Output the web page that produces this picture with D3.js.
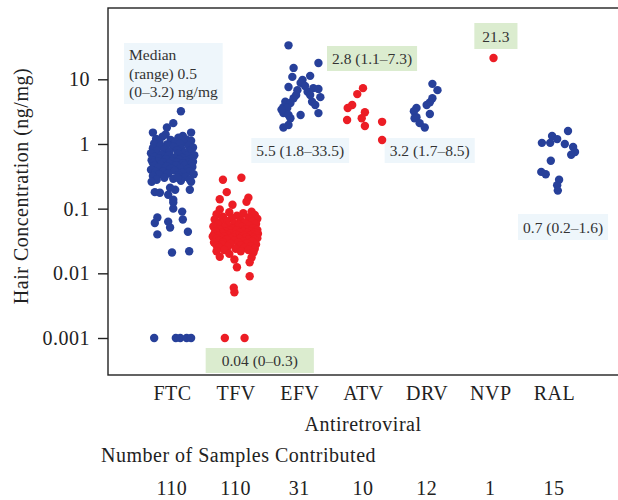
<!DOCTYPE html>
<html>
<head>
<meta charset="utf-8">
<script src="https://cdn.jsdelivr.net/npm/d3@7"></script>
<style>
  body { margin: 0; background: #fff; }
  svg { display: block; }
  svg text { font-family: "Liberation Serif", "DejaVu Serif", "Times New Roman", Times, serif; }
  .big { letter-spacing: 0.5px; }
</style>
</head>
<body>
<svg id="chart" width="618" height="500"></svg>
<script>
// categories and tick labels
const categories = ['FTC', 'TFV', 'EFV', 'ATV', 'DRV', 'NVP', 'RAL']
const sampleCounts = [110, 110, 31, 10, 12, 1, 15]
const yTicks = [0.001, 0.01, 0.1, 1, 10]
const yTickLabels = ['0.001', '0.01', '0.1', '1', '10']

// points: [concentration ng/mg, jitter as share of category spacing]
// zeros (below detection) are drawn at 0.001
const ftcPoints = [
  [3.2, 0.14], [2.1, 0.02], [1.8, -0.08], [1.5, -0.30], [1.5, 0.30], [1.4, -0.10], [1.33, 0.17],
  [1.3, -0.15], [1.25, 0.10], [1.2, -0.25], [1.18, 0.22], [1.15, -0.02], [1.12, 0.30], [1.1, -0.20],
  [1.08, 0.05], [1.05, 0.18], [1.02, -0.28], [1.0, 0.12], [0.98, -0.08], [0.95, 0.26], [0.93, -0.18],
  [0.9, 0.02], [0.88, 0.33], [0.86, -0.30], [0.84, 0.15], [0.82, -0.12], [0.8, 0.08], [0.78, -0.24],
  [0.76, 0.28], [0.75, -0.04], [0.73, 0.20], [0.72, -0.33], [0.7, 0.10], [0.68, -0.16], [0.67, 0.35],
  [0.66, -0.06], [0.65, 0.24], [0.63, -0.27], [0.62, 0.04], [0.61, 0.16], [0.6, -0.20], [0.59, 0.30],
  [0.58, -0.10], [0.57, 0.12], [0.56, -0.32], [0.55, 0.22], [0.54, 0.00], [0.53, -0.22], [0.53, 0.33],
  [0.52, -0.14], [0.52, 0.08], [0.51, 0.26], [0.51, -0.30], [0.5, -0.04], [0.5, 0.17],
  [0.49, 0.30], [0.48, -0.18], [0.47, 0.06], [0.46, -0.28], [0.46, 0.20], [0.45, -0.08], [0.44, 0.32],
  [0.43, -0.22], [0.42, 0.12], [0.42, -0.02], [0.41, 0.25], [0.4, -0.33], [0.39, 0.04], [0.38, -0.14],
  [0.38, 0.28], [0.37, -0.26], [0.36, 0.16], [0.35, -0.06], [0.34, 0.34], [0.34, -0.20], [0.33, 0.10],
  [0.32, -0.30], [0.31, 0.22], [0.3, -0.12], [0.29, 0.02], [0.28, -0.24], [0.27, 0.14], [0.26, -0.32],
  [0.26, 0.30],
  [0.30, 0.09], [0.28, 0.28], [0.21, -0.03], [0.196, 0.05], [0.196, 0.28], [0.18, -0.27], [0.176, -0.19],
  [0.164, -0.06], [0.137, 0.02], [0.124, 0.02], [0.10, 0.02], [0.09, 0.16], [0.073, -0.23], [0.068, 0.17],
  [0.063, -0.06], [0.06, -0.27], [0.051, -0.03], [0.044, 0.25], [0.040, -0.23], [0.022, 0.27], [0.021, 0.0],
  [0, -0.28], [0, 0.06], [0, 0.13], [0, 0.23], [0, 0.30]
]
const tfvPoints = [
  [0.30, 0.09], [0.28, -0.20], [0.18, -0.14], [0.148, 0.20], [0.14, -0.25], [0.128, 0.17], [0.115, -0.05],
  [0.097, -0.25], [0.09, 0.25],
  [0.088, -0.10], [0.085, 0.12], [0.082, -0.30], [0.08, 0.30], [0.078, 0.02], [0.075, -0.20], [0.073, 0.20],
  [0.071, -0.06], [0.07, 0.34], [0.068, -0.33], [0.066, 0.08], [0.065, -0.15], [0.063, 0.26], [0.062, -0.25],
  [0.06, 0.14], [0.059, -0.02], [0.058, 0.32], [0.057, -0.28], [0.056, 0.05], [0.055, -0.12], [0.054, 0.22],
  [0.053, -0.35], [0.052, 0.10], [0.051, -0.18], [0.05, 0.28], [0.049, -0.05], [0.048, 0.16], [0.048, -0.26],
  [0.047, 0.34], [0.046, -0.10], [0.046, 0.02], [0.045, -0.32], [0.045, 0.24], [0.044, -0.16], [0.044, 0.12],
  [0.043, -0.22], [0.043, 0.30], [0.042, 0.06], [0.042, -0.30], [0.042, 0.18], [0.041, -0.08], [0.041, 0.35],
  [0.041, -0.20], [0.04, 0.00], [0.04, 0.26], [0.04, -0.34],
  [0.039, 0.14], [0.039, -0.12], [0.039, 0.32], [0.038, -0.28], [0.038, 0.04], [0.038, 0.22], [0.037, -0.18],
  [0.037, 0.10], [0.037, -0.36], [0.036, 0.28], [0.036, -0.04], [0.036, 0.16], [0.035, -0.24], [0.035, 0.34],
  [0.035, -0.10], [0.034, 0.06], [0.034, -0.30], [0.033, 0.20], [0.033, -0.14], [0.033, 0.30], [0.032, -0.02],
  [0.032, -0.26], [0.031, 0.12], [0.031, 0.26], [0.03, -0.20], [0.03, 0.04], [0.03, -0.34], [0.029, 0.18],
  [0.029, -0.08], [0.028, 0.32], [0.028, -0.22], [0.027, 0.08], [0.027, -0.30], [0.026, 0.24], [0.026, -0.12],
  [0.025, 0.14], [0.025, -0.26], [0.024, 0.30], [0.024, 0.00], [0.023, -0.18], [0.023, 0.20], [0.022, -0.30],
  [0.022, 0.08], [0.021, 0.28], [0.020, -0.10],
  [0.0176, 0.25], [0.018, -0.25], [0.0164, -0.02], [0.0148, 0.22], [0.0124, 0.02], [0.009, 0.22],
  [0.006, -0.03], [0.0051, -0.02],
  [0, -0.17], [0, 0.14]
]
const efvPoints = [
  [33.5, -0.17], [17.9, 0.30], [15.0, -0.09], [11.3, 0.17], [10.9, -0.11], [9.8, 0.05], [8.8, 0.02],
  [7.6, -0.17], [7.3, 0.22], [7.1, 0.30], [6.8, -0.03], [6.4, 0.13], [5.3, 0.33], [5.1, -0.09],
  [4.5, -0.22], [4.3, -0.14], [4.5, 0.20], [4.0, 0.25], [3.7, -0.25], [3.6, -0.19], [3.0, 0.30],
  [3.0, -0.25], [2.8, -0.17], [2.8, 0.02], [2.5, -0.14], [1.8, -0.25], [1.97, -0.17], [7.9, 0.09],
  [5.7, -0.05], [3.4, -0.28], [5.7, 0.17]
]
const atvPoints = [
  [7.3, 0.0], [5.9, -0.09], [4.0, -0.17], [3.6, -0.24], [3.1, 0.03], [2.5, -0.02], [2.35, -0.25],
  [2.2, 0.30], [1.9, 0.03], [1.15, 0.30]
]
const drvPoints = [
  [8.5, 0.09], [6.8, 0.17], [5.1, 0.09], [4.4, 0.05], [4.0, 0.0], [3.6, -0.16], [3.2, -0.20],
  [2.9, 0.05], [2.6, -0.16], [2.5, -0.19], [2.1, -0.11], [1.8, -0.03]
]
const nvpPoints = [[21.3, 0.05]]
const ralPoints = [
  [1.59, 0.22], [1.33, -0.03], [1.19, 0.05], [1.04, -0.19], [1.04, -0.06], [1.0, 0.17], [0.9, 0.30],
  [0.75, 0.33], [0.68, 0.27], [0.55, -0.05], [0.37, -0.20], [0.34, -0.13], [0.28, 0.08], [0.23, 0.05],
  [0.19, 0.06]
]

// median (range) notes
const noteLines = {
  FTC: ['Median', '(range) 0.5', '(0\u20133.2) ng/mg'],
  TFV: ['0.04 (0\u20130.3)'],
  EFV: ['5.5 (1.8\u201333.5)'],
  ATV: ['2.8 (1.1\u20137.3)'],
  DRV: ['3.2 (1.7\u20138.5)'],
  NVP: ['21.3'],
  RAL: ['0.7 (0.2\u20131.6)']
}

const pointsByDrug = {
  FTC: ftcPoints, TFV: tfvPoints, EFV: efvPoints, ATV: atvPoints,
  DRV: drvPoints, NVP: nvpPoints, RAL: ralPoints
}

const BLUE = '#27409a'
const RED = '#ec1d25'
const NOTE_BLUE = '#eef6fb'
const NOTE_GREEN = '#dbeccf'
const INK = '#222'
const FONT = 20

const svg = d3.select('#chart')

const plotLeft = 108, plotTop = 8, plotBottom = 375

const x = d3.scalePoint()
  .domain(categories)
  .range([172, 554])

const y = d3.scaleLog()
  .domain([0.001, 10])
  .range([338, 79.3])

const color = d3.scaleOrdinal()
  .domain(categories)
  .range([BLUE, RED, BLUE, RED, BLUE, RED, BLUE])

// frame (right side runs off the picture)
svg.append('rect')
  .attr('x', plotLeft)
  .attr('y', plotTop)
  .attr('width', 620)
  .attr('height', plotBottom - plotTop)
  .attr('fill', 'none')
  .attr('stroke', INK)
  .attr('stroke-width', 1.4)

// y axis
const yAxis = d3.axisLeft(y)
  .tickValues(yTicks)
  .tickFormat((d, i) => yTickLabels[i])
  .tickSize(10)
  .tickPadding(8)

const gy = svg.append('g')
  .attr('transform', `translate(${plotLeft},0)`)
  .call(yAxis)
  .attr('font-family', null)
gy.select('.domain').remove()
gy.selectAll('line').attr('stroke', INK).attr('stroke-width', 1.4)
gy.selectAll('text')
  .attr('class', 'big')
  .attr('font-size', FONT)
  .attr('fill', INK)

// x axis
const xAxis = d3.axisBottom(x)
  .tickSize(0)
  .tickPadding(11)

const gx = svg.append('g')
  .attr('transform', `translate(0,${plotBottom})`)
  .call(xAxis)
  .attr('font-family', null)
gx.select('.domain').remove()
gx.selectAll('text')
  .attr('class', 'big')
  .attr('font-size', FONT)
  .attr('fill', INK)

// axis titles
svg.append('text')
  .attr('class', 'big')
  .attr('transform', 'translate(28,186) rotate(-90)')
  .attr('text-anchor', 'middle')
  .attr('font-size', FONT)
  .attr('fill', INK)
  .text('Hair Concentration (ng/mg)')

svg.append('text')
  .attr('class', 'big')
  .attr('x', (x.range()[0] + x.range()[1]) / 2)
  .attr('y', 431)
  .attr('text-anchor', 'middle')
  .attr('font-size', FONT)
  .attr('fill', INK)
  .text('Antiretroviral')

svg.append('text')
  .attr('class', 'big')
  .attr('x', 101)
  .attr('y', 462)
  .attr('font-size', FONT)
  .attr('fill', INK)
  .text('Number of Samples Contributed')

svg.append('g')
  .selectAll('text')
  .data(categories)
  .enter().append('text')
  .attr('class', 'big')
  .attr('x', d => x(d))
  .attr('y', 495)
  .attr('text-anchor', 'middle')
  .attr('font-size', FONT)
  .attr('fill', INK)
  .text((d, i) => sampleCounts[i])

// note boxes
const noteLayout = {
  FTC: { dx: -48, top: 43, h: 61, fill: NOTE_BLUE },
  TFV: { dx: -30, top: 348, h: 25, fill: NOTE_GREEN },
  EFV: { dx: -48, top: 138, h: 25, fill: NOTE_BLUE },
  ATV: { dx: -36, top: 46, h: 25, fill: NOTE_GREEN },
  DRV: { dx: -42, top: 138, h: 25, fill: NOTE_BLUE },
  NVP: { dx: -16, top: 23, h: 26, fill: NOTE_GREEN },
  RAL: { dx: -36, top: 214, h: 26, fill: NOTE_BLUE }
}

const notes = svg.append('g')
categories.forEach(cat => {
  const lay = noteLayout[cat]
  const lines = noteLines[cat]
  const bx = x(cat) + lay.dx
  const g = notes.append('g')
  const rect = g.append('rect')
    .attr('x', bx)
    .attr('y', lay.top)
    .attr('height', lay.h)
    .attr('fill', lay.fill)
  const pad = cat === 'TFV' ? 16 : cat === 'NVP' ? 8 : 5
  let maxW = 0
  lines.forEach((line, i) => {
    const t = g.append('text')
      .attr('x', bx + pad)
      .attr('y', lines.length > 1 ? lay.top + 17 + i * 18.5 : lay.top + lay.h - 7)
      .attr('font-size', 15.5)
      .attr('fill', '#333')
      .text(line)
    maxW = Math.max(maxW, t.node().getComputedTextLength())
  })
  rect.attr('width', maxW + pad * 2)
})

// points
const dots = svg.append('g')
categories.forEach(cat => {
  dots.selectAll(null)
    .data(pointsByDrug[cat])
    .enter().append('circle')
    .attr('cx', d => x(cat) + d[1] * x.step())
    .attr('cy', d => y(Math.max(d[0], 0.001)))
    .attr('r', 4.2)
    .attr('fill', color(cat))
})
</script>
</body>
</html>
